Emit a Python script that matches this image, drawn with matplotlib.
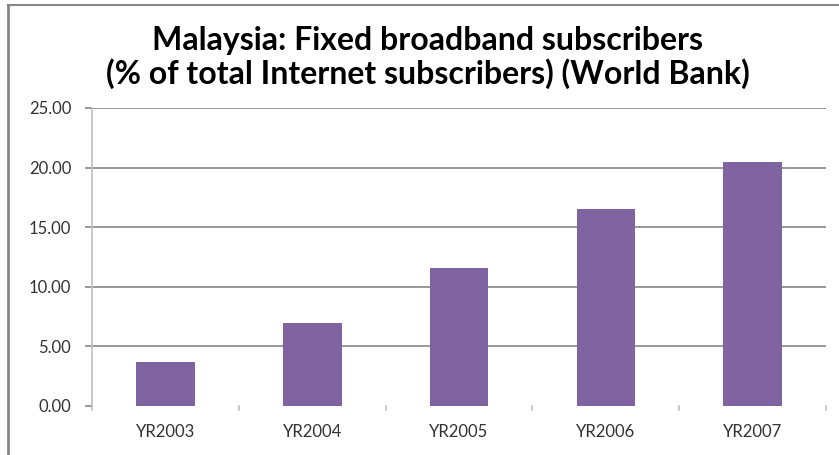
import matplotlib.pyplot as plt
from matplotlib.lines import Line2D

years = ["YR2003", "YR2004", "YR2005", "YR2006", "YR2007"]
share = [3.65, 7.0, 11.6, 16.5, 20.5]
yticks = [0, 5, 10, 15, 20, 25]

bar_color = "#8064A2"
grid_color = "#868686"
text_color = "#333333"

plt.rcParams['font.family'] = ['Lato', 'DejaVu Sans']

fig = plt.figure(figsize=(8.39, 4.55), dpi=100)
ax = fig.add_axes([0.1097, 0.1077, 0.8749, 0.655])

x = range(len(years))
ax.bar(x, share, width=0.4, color=bar_color, zorder=3)

ax.set_xlim(-0.5, len(years) - 0.5)
ax.set_ylim(0, 25)
ax.set_yticks(yticks)
ax.set_yticklabels([f"{v:.2f}" for v in yticks], fontsize=12, color=text_color)
ax.set_xticks(list(x))
ax.set_xticklabels(years, fontsize=12, color=text_color)

# gridlines (no line at zero)
for v in yticks[1:]:
    ax.axhline(v, color=grid_color, linewidth=1.2, zorder=1)

# boundary tick marks on the category axis
ax.tick_params(axis='x', length=0, pad=13)
for b in [i + 0.5 for i in range(-1, len(years))]:
    ax.plot([b, b], [0, -0.35], color="#BFBFBF", linewidth=1.2,
            clip_on=False, zorder=2)

ax.tick_params(axis='y', length=5, color=grid_color, width=1.2, pad=10)
for s in ["top", "right", "bottom"]:
    ax.spines[s].set_visible(False)
ax.spines["left"].set_color("#BFBFBF")
ax.spines["left"].set_linewidth(1.2)

fig.text(0.51, 0.874, "Malaysia: Fixed broadband subscribers\n"
         "(% of total Internet subscribers) (World Bank)",
         ha="center", va="center", fontsize=23, fontweight="bold",
         color="black", linespacing=1.12)

# chart area border (left and top visible)
fig.add_artist(Line2D([8 / 839, 8 / 839], [0, 1 - 5 / 455],
                      transform=fig.transFigure, color=grid_color, linewidth=2))
fig.add_artist(Line2D([8 / 839, 1], [1 - 5 / 455, 1 - 5 / 455],
                      transform=fig.transFigure, color=grid_color, linewidth=1.5))

plt.savefig("out.png", dpi=100)
